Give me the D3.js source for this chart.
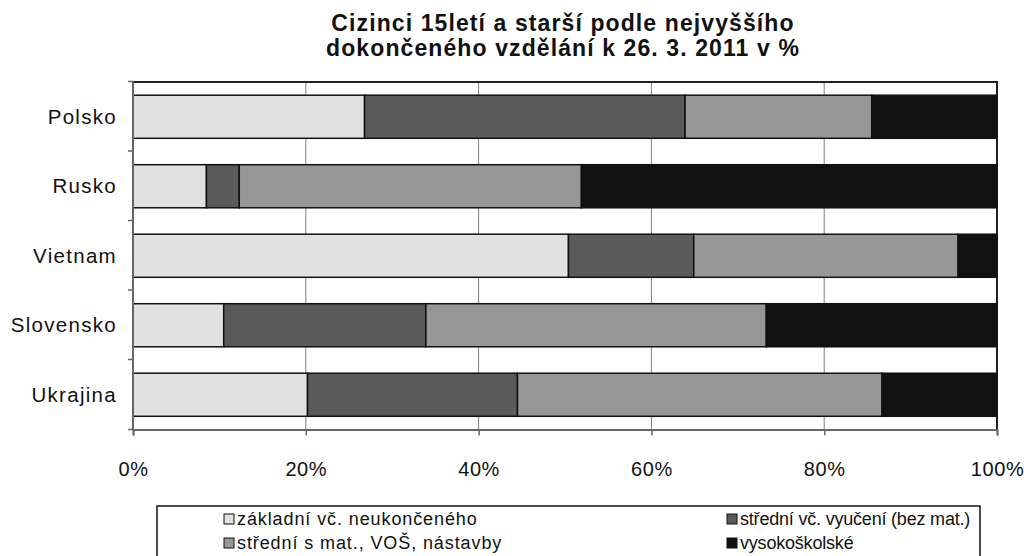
<!DOCTYPE html>
<html>
<head>
<meta charset="utf-8">
<script src="https://cdn.jsdelivr.net/npm/d3@7/dist/d3.min.js"></script>
<style>
  body { margin: 0; background: #fff; }
  text { font-family: "Liberation Sans", Arial, sans-serif; fill: #111; }
</style>
</head>
<body>
<svg id="svgcanvas" width="1024" height="556"></svg>
<script>
// categories, top to bottom
var countries = ["Polsko", "Rusko", "Vietnam", "Slovensko", "Ukrajina"];

// series (share in %)
var seriesNames = [
  "základní vč. neukončeného",
  "střední vč. vyučení (bez mat.)",
  "střední s mat., VOŠ, nástavby",
  "vysokoškolské"
];
var zakladni   = [26.8,  8.5, 50.4, 10.5, 20.2];
var vyuceni    = [37.1,  3.8, 14.5, 23.4, 24.3];
var maturita   = [21.6, 39.6, 30.6, 39.4, 42.2];
var vysokoskol = [14.5, 48.1,  4.5, 26.7, 13.3];

var xTicks = [0, 0.2, 0.4, 0.6, 0.8, 1];
var titleLines = ["Cizinci 15letí a starší podle nejvyššího",
                  "dokončeného vzdělání k 26. 3. 2011 v %"];

var fills = ["#e1e1e1", "#5a5a5a", "#979797", "#111111"];

var svg = d3.select("#svgcanvas");

var margin = { left: 133, right: 27, top: 82, bottom: 126.5 };
var W = 1024, H = 556;

var x = d3.scaleLinear().domain([0, 1]).range([margin.left, W - margin.right]);
var y = d3.scaleBand().domain(countries)
  .range([margin.top, H - margin.bottom]).paddingInner(0.38).paddingOuter(0.19);

// build rows for the stack
var table = countries.map(function(c, i) {
  var tot = zakladni[i] + vyuceni[i] + maturita[i] + vysokoskol[i];
  return { country: c, s0: zakladni[i] / tot, s1: vyuceni[i] / tot,
           s2: maturita[i] / tot, s3: vysokoskol[i] / tot };
});
var stacked = d3.stack().keys(["s0", "s1", "s2", "s3"])(table);

// title
svg.append("g").selectAll("text")
  .data(titleLines)
  .enter().append("text")
  .attr("x", 563)
  .attr("y", function(d, i) { return 31 + i * 25; })
  .attr("text-anchor", "middle")
  .attr("font-size", 23)
  .attr("font-weight", "bold")
  .attr("letter-spacing", 1.1)
  .text(function(d) { return d; });

// vertical gridlines
svg.append("g").selectAll("line")
  .data(xTicks.slice(1, -1))
  .enter().append("line")
  .attr("x1", function(d) { return x(d); })
  .attr("x2", function(d) { return x(d); })
  .attr("y1", margin.top)
  .attr("y2", H - margin.bottom)
  .attr("stroke", "#808080")
  .attr("stroke-width", 1);

// plot border top + right
svg.append("path")
  .attr("d", "M" + x(0) + "," + margin.top + "H" + x(1) + "V" + (H - margin.bottom))
  .attr("fill", "none")
  .attr("stroke", "#222")
  .attr("stroke-width", 2);

// bars
svg.append("g").selectAll("g")
  .data(stacked)
  .enter().append("g")
  .attr("fill", function(d, i) { return fills[i]; })
  .selectAll("rect")
  .data(function(d) { return d; })
  .enter().append("rect")
  .attr("x", function(d) { return x(d[0]); })
  .attr("y", function(d) { return y(d.data.country); })
  .attr("width", function(d) { return x(d[1]) - x(d[0]); })
  .attr("height", y.bandwidth())
  .attr("stroke", "#111")
  .attr("stroke-width", 1.5);

// x axis
var xAxis = svg.append("g")
  .attr("transform", "translate(0," + (H - margin.bottom) + ")")
  .call(d3.axisBottom(x).tickValues(xTicks).tickFormat(d3.format(".0%"))
    .tickSize(6).tickPadding(26));
xAxis.select(".domain").attr("stroke", "#666").attr("stroke-width", 2);
xAxis.selectAll(".tick line").attr("stroke", "#666").attr("stroke-width", 1.5);
xAxis.selectAll("text")
  .attr("font-size", 20)
  .attr("letter-spacing", 0.6)
  .attr("font-family", "'Liberation Sans', Arial, sans-serif")
  .attr("fill", "#111");

// y axis (ticks between categories)
var yEdges = countries.map(function(c) { return y(c) - y.step() * y.paddingInner() / 2 - 0.5; })
  .concat([H - margin.bottom]);
var yAxis = svg.append("g");
yAxis.append("line")
  .attr("x1", x(0)).attr("x2", x(0))
  .attr("y1", margin.top).attr("y2", H - margin.bottom)
  .attr("stroke", "#666").attr("stroke-width", 2);
yAxis.selectAll(".tk")
  .data(yEdges)
  .enter().append("line")
  .attr("class", "tk")
  .attr("x1", x(0) - 5).attr("x2", x(0))
  .attr("y1", function(d) { return d; })
  .attr("y2", function(d) { return d; })
  .attr("stroke", "#666").attr("stroke-width", 1.5);
yAxis.selectAll("text")
  .data(countries)
  .enter().append("text")
  .attr("x", 117)
  .attr("y", function(d) { return y(d) + y.bandwidth() / 2; })
  .attr("dy", "0.35em")
  .attr("text-anchor", "end")
  .attr("font-size", 20.5)
  .attr("letter-spacing", 1.3)
  .text(function(d) { return d; });

// legend
var legend = svg.append("g");
legend.append("rect")
  .attr("x", 157).attr("y", 506)
  .attr("width", 823).attr("height", 60)
  .attr("fill", "#fff").attr("stroke", "#111").attr("stroke-width", 1.5);

var legPos = [[224, 519], [727, 519], [224, 543], [727, 543]];
var items = legend.selectAll("g.item")
  .data(seriesNames)
  .enter().append("g")
  .attr("class", "item")
  .attr("transform", function(d, i) { return "translate(" + legPos[i][0] + "," + legPos[i][1] + ")"; });
items.append("rect")
  .attr("x", 0).attr("y", -5)
  .attr("width", 10).attr("height", 10)
  .attr("fill", function(d, i) { return fills[i]; })
  .attr("stroke", "#111").attr("stroke-width", 1);
items.append("text")
  .attr("x", 13)
  .attr("dy", "0.35em")
  .attr("font-size", 18)
  .attr("letter-spacing", function(d, i) { return i % 2 ? -0.2 : 0.9; })
  .text(function(d) { return d; });
</script>
</body>
</html>
